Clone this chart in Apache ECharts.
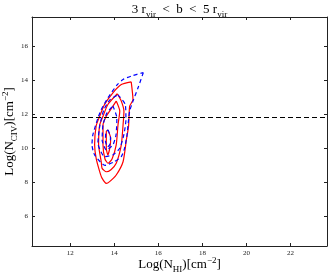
<!DOCTYPE html>
<html>
<head>
<meta charset="utf-8">
<script src="https://cdn.jsdelivr.net/npm/echarts@6/dist/echarts.min.js"></script>
<style>html,body{margin:0;padding:0;background:#fff}#c{width:332px;height:278px}</style>
</head>
<body>
<div id="c"></div>
<script>
const xTicks = [12, 14, 16, 18, 20, 22];
const yTicks = [6, 8, 10, 12, 14, 16];
const xRange = [10.27, 23.65];
const yRange = [4.24, 17.69];
const thresholdLogNCIV = 11.8;
const titleText = '3 r{tsub|vir}  <  b  <  5 r{tsub|vir}';
const xAxisTitle = 'Log(N{sub|HI})[cm{sup|−2}]';
const yAxisTitle = 'Log(N{sub|CIV})[cm{sup|−2}]';

// red solid contours (outer -> inner)
const redLevel1 = [[14.77,13.88],[14.85,12.84],[14.70,12.45],[14.65,11.28],[14.55,10.47],[14.40,9.19],[14.09,8.41],[13.79,8.02],[13.64,7.92],[13.44,8.24],[13.34,8.61],[13.18,9.39],[13.11,10.18],[13.18,11.29],[13.34,11.86],[13.56,12.55],[13.94,13.24],[14.32,13.72],[14.77,13.88]];
const redLevel2 = [[14.14,13.18],[14.32,12.75],[14.44,12.16],[14.40,11.35],[14.32,10.18],[14.09,9.10],[13.85,8.72],[13.64,8.60],[13.45,8.80],[13.41,9.19],[13.29,10.18],[13.34,11.35],[13.49,11.86],[13.71,12.55],[14.14,13.18]];
const redLevel3 = [[14.09,12.75],[14.25,12.16],[14.17,11.35],[14.09,10.18],[13.90,9.35],[13.72,9.10],[13.58,9.35],[13.49,10.18],[13.49,11.35],[13.62,11.82],[13.79,12.16],[14.09,12.75]];
const redLevel4 = [[13.71,11.06],[13.84,10.57],[13.80,10.00],[13.71,9.59],[13.64,9.98],[13.64,10.96],[13.71,11.06]];

// blue dashed contours (outer -> inner)
const blueLevel1 = [[15.32,14.43],[15.08,13.53],[14.85,12.75],[14.70,12.16],[14.62,11.28],[14.58,10.76],[14.47,9.98],[14.32,9.49],[13.99,9.18],[13.58,8.98],[13.11,9.59],[12.99,10.18],[13.03,10.76],[13.26,11.76],[13.41,12.25],[13.71,12.94],[14.14,13.72],[14.40,14.02],[14.77,14.22],[15.32,14.43]];
const blueLevel2 = [[14.17,13.12],[14.50,12.55],[14.53,11.65],[14.44,10.80],[14.25,9.98],[13.95,9.60],[13.56,9.49],[13.26,10.29],[13.35,11.35],[13.53,12.24],[13.80,12.82],[14.17,13.12]];
const blueLevel3 = [[13.94,12.47],[14.12,11.76],[14.08,10.76],[13.94,10.18],[13.64,9.88],[13.45,10.47],[13.49,11.35],[13.67,12.06],[13.94,12.47]];
const blueLevel4 = [[13.72,11.06],[13.83,10.60],[13.80,10.20],[13.70,10.06],[13.60,10.40],[13.62,10.90],[13.72,11.06]];

const FONT = 'Liberation Serif';
const richStyles = {
  sub: {fontSize: 9, lineHeight: 9, verticalAlign: 'bottom', fontFamily: FONT, fill: '#000'},
  sup: {fontSize: 9, lineHeight: 9, verticalAlign: 'top', fontFamily: FONT, fill: '#000'},
  tsub: {fontSize: 9, lineHeight: 9, verticalAlign: 'bottom', fontFamily: FONT, fill: '#000'}
};

const axisLine = {show: true, lineStyle: {color: '#222', width: 1}};
const tickStyle = {inside: true, length: 3, lineStyle: {color: '#222', width: 1}};
const labelStyle = {fontSize: 7, fontFamily: FONT, color: '#222', margin: 4};

function contourSeries(data, color, dashed) {
  return {
    type: 'line', data: data, xAxisIndex: 0, yAxisIndex: 0,
    symbol: 'none', smooth: 0.2, silent: true,
    lineStyle: {color: color, width: 1.2, type: dashed ? [4, 3] : 'solid'}
  };
}

const series = [
  contourSeries(redLevel1, '#ff0000', false),
  contourSeries(redLevel2, '#ff0000', false),
  contourSeries(redLevel3, '#ff0000', false),
  contourSeries(redLevel4, '#ff0000', false),
  contourSeries(blueLevel1, '#0000ff', true),
  contourSeries(blueLevel2, '#0000ff', true),
  contourSeries(blueLevel3, '#0000ff', true),
  contourSeries(blueLevel4, '#0000ff', true)
];
series[0].markLine = {
  silent: true, symbol: 'none', label: {show: false},
  lineStyle: {color: '#000', width: 1, type: [5, 3]},
  data: [{yAxis: thresholdLogNCIV}]
};

function textEl(text, x, y, size, rotation, rich) {
  return {
    type: 'text', x: x, y: y, rotation: rotation, silent: true,
    style: {text: text, align: 'center', verticalAlign: 'middle', fontSize: size,
            lineHeight: size + 5, fontFamily: FONT, fill: '#000', rich: rich}
  };
}

const chart = echarts.init(document.getElementById('c'), null, {renderer: 'canvas'});
chart.setOption({
  animation: false,
  grid: {left: 32, right: 5, top: 17, bottom: 32, containLabel: false, outerBoundsMode: 'none'},
  xAxis: [
    {type: 'value', min: xRange[0], max: xRange[1], position: 'bottom',
     axisLine: axisLine, splitLine: {show: false},
     axisTick: Object.assign({customValues: xTicks}, tickStyle),
     axisLabel: Object.assign({customValues: xTicks}, labelStyle)},
    {type: 'value', min: xRange[0], max: xRange[1], position: 'top',
     axisLine: axisLine, splitLine: {show: false},
     axisTick: Object.assign({customValues: xTicks}, tickStyle),
     axisLabel: {show: false}}
  ],
  yAxis: [
    {type: 'value', min: yRange[0], max: yRange[1], position: 'left',
     axisLine: axisLine, splitLine: {show: false},
     axisTick: Object.assign({customValues: yTicks}, tickStyle),
     axisLabel: Object.assign({customValues: yTicks}, labelStyle)},
    {type: 'value', min: yRange[0], max: yRange[1], position: 'right',
     axisLine: axisLine, splitLine: {show: false},
     axisTick: Object.assign({customValues: yTicks}, tickStyle),
     axisLabel: {show: false}}
  ],
  graphic: [
    textEl(titleText, 179.5, 10, 13, 0, {tsub: richStyles.tsub}),
    textEl(xAxisTitle, 179.5, 265, 13, 0, {sub: richStyles.sub, sup: richStyles.sup}),
    textEl(yAxisTitle, 10, 131.5, 13, Math.PI / 2, {sub: richStyles.sub, sup: richStyles.sup})
  ],
  series: series
});
</script>
</body>
</html>
